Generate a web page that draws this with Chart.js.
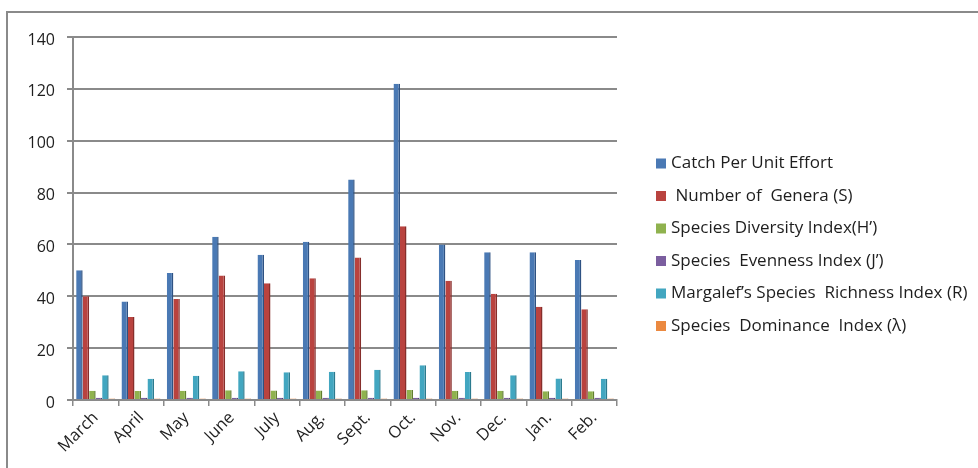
<!DOCTYPE html>
<html>
<head>
<meta charset="utf-8">
<script src="https://cdn.jsdelivr.net/npm/chart.js@4/dist/chart.umd.min.js"></script>
<style>
  html, body { margin: 0; padding: 0; background: #ffffff; }
  #wrap { width: 978px; height: 468px; position: relative; }
</style>
</head>
<body>
<div id="wrap"><canvas id="c" width="978" height="468"></canvas></div>
<script>
// Monthly values
const months = ['March', 'April', 'May', 'June', 'July', 'Aug.', 'Sept.', 'Oct.', 'Nov.', 'Dec.', 'Jan.', 'Feb.'];
const catchPerUnitEffort = [50, 38, 49, 63, 56, 61, 85, 122, 60, 57, 57, 54];
const numberOfGenera = [40, 32, 39, 48, 45, 47, 55, 67, 46, 41, 36, 35];
const diversityIndex = [3.6, 3.5, 3.6, 3.8, 3.7, 3.7, 3.8, 3.9, 3.6, 3.6, 3.4, 3.4];
const evennessIndex = [0.9, 0.9, 0.9, 0.9, 0.9, 0.9, 0.9, 0.9, 0.9, 0.9, 0.9, 0.9];
const richnessIndex = [9.5, 8.2, 9.4, 11.1, 10.7, 10.9, 11.7, 13.4, 10.8, 9.5, 8.3, 8.2];
const dominanceIndex = [0.1, 0.1, 0.1, 0.1, 0.1, 0.1, 0.1, 0.1, 0.1, 0.1, 0.1, 0.1];
const yTicks = [0, 20, 40, 60, 80, 100, 120, 140];

const seriesNames = [
  'Catch Per Unit Effort',
  ' Number of  Genera (S)',
  'Species Diversity Index(H\u2019)',
  'Species  Evenness Index (J\u2019)',
  'Margalef\u2019s Species  Richness Index (R)',
  'Species  Dominance  Index (\u03bb)'
];
const seriesValues = [catchPerUnitEffort, numberOfGenera, diversityIndex, evennessIndex, richnessIndex, dominanceIndex];
const fills = ['#4A79B4', '#B9433F', '#8FB24E', '#7B5E9F', '#42A6C0', '#EB8940'];
const sides = ['#2E5283', '#862E2B', '#627F30', '#553F73', '#2B7A8E', '#B4622A'];

const FONT = '"Open Sans", Lato, sans-serif';

// Outer frame lines and the legend block on the right
const framePlugin = {
  id: 'frame',
  beforeDraw(chart) {
    const ctx = chart.ctx;
    ctx.save();
    ctx.fillStyle = '#ffffff';
    ctx.fillRect(0, 0, chart.width, chart.height);
    ctx.strokeStyle = '#8a8a8a';
    ctx.lineWidth = 2;
    ctx.beginPath();
    ctx.moveTo(7, chart.height);
    ctx.lineTo(7, 12);
    ctx.lineTo(chart.width, 12);
    ctx.stroke();
    ctx.restore();
  },
  afterDraw(chart) {
    const ctx = chart.ctx;
    ctx.save();
    ctx.font = '17px ' + FONT;
    ctx.textBaseline = 'middle';
    ctx.textAlign = 'left';
    chart.data.datasets.forEach((ds, i) => {
      const y = 163.5 + i * 32.5;
      ctx.fillStyle = ds.backgroundColor;
      ctx.fillRect(656, y - 5, 10, 10);
      ctx.fillStyle = '#1e1e1e';
      ctx.fillText(ds.label, 671, y);
    });
    ctx.restore();
  }
};

new Chart(document.getElementById('c'), {
  type: 'bar',
  data: {
    labels: months,
    datasets: seriesValues.map((vals, i) => ({
      label: seriesNames[i],
      data: vals,
      backgroundColor: fills[i],
      borderColor: sides[i],
      borderWidth: { top: 0, left: 0, bottom: 0, right: 1.5 },
      borderSkipped: false,
      minBarLength: i === 5 ? 1.5 : 0,
      categoryPercentage: 0.86,
      barPercentage: 1.0
    }))
  },
  options: {
    responsive: false,
    animation: false,
    layout: { padding: { left: 0, right: 361, top: 37, bottom: 0 } },
    plugins: {
      legend: { display: false },
      tooltip: { enabled: false }
    },
    scales: {
      x: {
        grid: {
          display: true,
          drawOnChartArea: false,
          drawTicks: true,
          tickLength: 6,
          color: '#8a8a8a',
          lineWidth: 1.5,
          offset: true
        },
        border: { display: true, color: '#8a8a8a', width: 2 },
        ticks: {
          font: { family: FONT, size: 16.5 },
          color: '#1e1e1e',
          minRotation: 45,
          maxRotation: 45,
          padding: 2
        },
        afterFit(scale) { scale.height = 68; }
      },
      y: {
        min: 0,
        max: 140,
        afterBuildTicks(scale) { scale.ticks = yTicks.map(v => ({ value: v })); },
        grid: {
          color: '#8a8a8a',
          lineWidth: 2,
          drawTicks: true,
          tickLength: 6
        },
        border: { display: true, color: '#8a8a8a', width: 2 },
        ticks: {
          font: { family: FONT, size: 16 },
          color: '#1e1e1e',
          padding: 12,
          labelOffset: 3
        },
        afterFit(scale) { scale.width = 73; }
      }
    }
  },
  plugins: [framePlugin]
});
</script>
</body>
</html>
